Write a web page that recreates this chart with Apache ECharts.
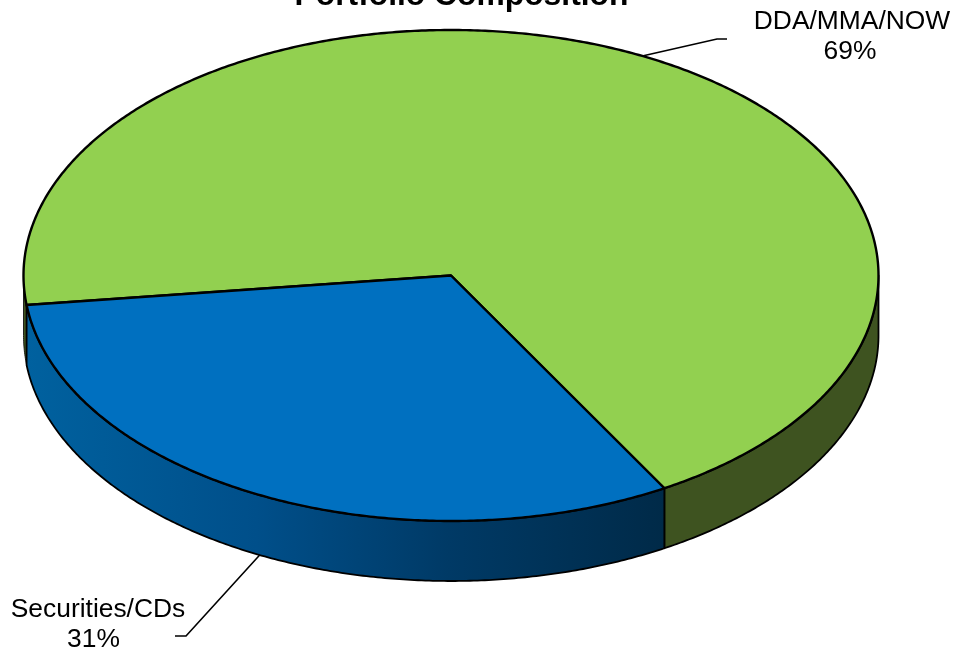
<!DOCTYPE html>
<html>
<head>
<meta charset="utf-8">
<style>html,body{margin:0;padding:0;background:#fff}#c{width:954px;height:654px}</style>
<script src="https://cdn.jsdelivr.net/npm/echarts@6/dist/echarts.min.js"></script>
</head>
<body>
<div id="c"></div>
<script>
const titleText = 'Portfolio Composition';
const categories = ['DDA/MMA/NOW', 'Securities/CDs'];
const values = [68.6, 31.4];
const topColors = ['#92D050', '#0070C0'];
const total = values.reduce((a, b) => a + b, 0);

const CX = 451, CY = 275.5, RX = 427.5, RY = 245.5, DEPTH = 60;
const START = 173.1;
const FONT = 'Liberation Sans, Arial, sans-serif';
const LINE_GAP = 30;
const labelStyle = [
  { x: 852, y: 21.5, pctDx: -2, ax: 727, ay: 39, ex: 717, ey: 39 },
  { x: 98, y: 609.5, pctDx: -4.5, ax: 175, ay: 636, ex: 186, ey: 636 }
];

function pt(deg, dy) {
  const r = deg * Math.PI / 180;
  return [CX + RX * Math.cos(r), CY + RY * Math.sin(r) + (dy || 0)];
}
function arc(from, to, dy) {
  const n = Math.max(2, Math.ceil(Math.abs(to - from) * 2));
  const out = [];
  for (let i = 0; i <= n; i++) out.push(pt(from + (to - from) * i / n, dy));
  return out;
}
function sidePart(a, b, fill) {
  return {
    type: 'polygon',
    shape: { points: arc(a, b, 0).concat(arc(b, a, DEPTH)) },
    style: { fill: fill, stroke: '#000', lineWidth: (b - a) < 15 ? 0.8 : 1.8, lineJoin: 'round' }
  };
}
function sideFill(i) {
  if (i === 0) return '#3E5320';
  return new echarts.graphic.LinearGradient(27, 0, 665, 0, [
    { offset: 0, color: '#00619F' },
    { offset: 0.36, color: '#004F8A' },
    { offset: 0.66, color: '#003A66' },
    { offset: 1, color: '#002A48' }
  ], true);
}
function labelText(str, x, y) {
  return {
    type: 'text',
    style: {
      text: str, x: x, y: y, align: 'center', verticalAlign: 'middle',
      fontFamily: FONT, fontSize: 26.4, fill: '#000'
    },
    z2: 6
  };
}
function renderItem(params) {
  const i = params.dataIndex;
  let before = 0;
  for (let k = 0; k < i; k++) before += values[k];
  const a0 = START + before / total * 360;
  const a1 = a0 + values[i] / total * 360;
  const mid = (a0 + a1) / 2;
  const children = [];

  // visible (front) wall: the parts of the slice lying in 0..180 deg, modulo 360
  [[0, 180], [360, 540]].forEach(function (w) {
    const s = Math.max(a0, w[0]), e = Math.min(a1, w[1]);
    if (e > s) children.push(sidePart(s, e, sideFill(i)));
  });

  // top face
  children.push({
    type: 'polygon',
    shape: { points: [[CX, CY]].concat(arc(a0, a1, 0)) },
    style: { fill: topColors[i], stroke: '#000', lineWidth: 2.4, lineJoin: 'round' },
    z2: 5
  });

  // leader line, anchored at the slice's mid-angle
  const sinM = Math.sin(mid * Math.PI / 180);
  const l = labelStyle[i];
  children.push({
    type: 'polyline',
    shape: { points: [pt(mid, sinM > 0 ? DEPTH : 0), [l.ex, l.ey], [l.ax, l.ay]] },
    style: { stroke: '#000', lineWidth: 1.6, fill: null },
    z2: 1
  });

  // label: category, then rounded share
  children.push(labelText(categories[i], l.x, l.y));
  children.push(labelText(Math.round(values[i] / total * 100) + '%', l.x + l.pctDx, l.y + LINE_GAP));
  return { type: 'group', children: children };
}

const chart = echarts.init(document.getElementById('c'), null, { renderer: 'canvas' });
chart.setOption({
  animation: false,
  backgroundColor: '#fff',
  title: {
    text: titleText, left: 456.5, top: -25, textAlign: 'center',
    textStyle: { fontFamily: FONT, fontSize: 31.8, fontWeight: 'bold', color: '#000' }
  },
  series: [{
    type: 'custom',
    coordinateSystem: 'none',
    renderItem: renderItem,
    data: categories.map((c, i) => ({ name: c, value: values[i] }))
  }]
});
</script>
</body>
</html>
